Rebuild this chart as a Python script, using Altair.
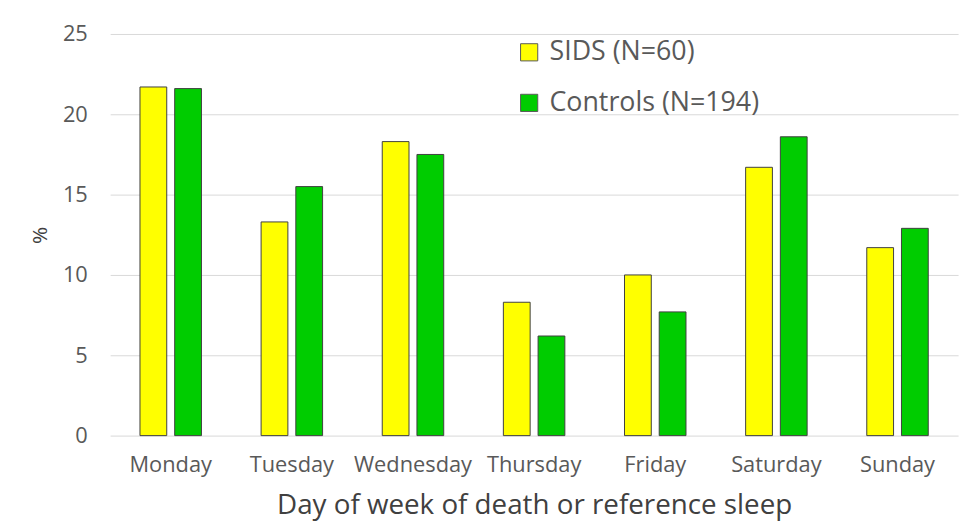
import altair as alt
import pandas as pd

days = ["Monday", "Tuesday", "Wednesday", "Thursday", "Friday", "Saturday", "Sunday"]
sids = [21.7, 13.3, 18.3, 8.3, 10.0, 16.7, 11.7]
controls = [21.6, 15.5, 17.5, 6.2, 7.7, 18.6, 12.9]
groups = ["SIDS (N=60)", "Controls (N=194)"]
colors = ["#FFFF00", "#00CC00"]

rows = []
for d, s, c in zip(days, sids, controls):
    rows.append({"day": d, "group": groups[0], "value": s})
    rows.append({"day": d, "group": groups[1], "value": c})
df = pd.DataFrame(rows)

FONT = "Open Sans"

chart = alt.Chart(df).mark_bar(stroke="#404040", strokeWidth=1).encode(
    x=alt.X("day:N", sort=days,
            scale=alt.Scale(paddingInner=0.4924, paddingOuter=0.2462),
            axis=alt.Axis(title="Day of week of death or reference sleep",
                          labelAngle=0, labelFontSize=22, labelColor="#595959",
                          labelFont=FONT, labelPadding=19, ticks=False, domain=False,
                          titleFontSize=28, titleFont=FONT, titleColor="#404040",
                          titleFontWeight="normal", titlePadding=17)),
    xOffset=alt.XOffset("group:N", sort=groups,
                        scale=alt.Scale(paddingInner=0.2286, paddingOuter=0)),
    y=alt.Y("value:Q", scale=alt.Scale(domain=[0, 25]),
            axis=alt.Axis(title="%", values=[0, 5, 10, 15, 20, 25],
                          labelFontSize=22, labelColor="#595959", labelFont=FONT,
                          labelPadding=23, ticks=False, domain=False,
                          gridColor="#d9d9d9", gridWidth=1,
                          titleFontSize=21, titleFont=FONT, titleColor="#404040",
                          titleFontWeight="normal", titlePadding=12)),
    color=alt.Color("group:N", sort=groups,
                    scale=alt.Scale(domain=groups, range=colors),
                    legend=alt.Legend(title=None, orient="none", legendX=409, legendY=5,
                                      symbolType="square", symbolSize=300,
                                      symbolStrokeColor="#595959", symbolStrokeWidth=1,
                                      labelFontSize=27, labelFont=FONT, labelColor="#595959",
                                      labelLimit=400, rowPadding=23, labelOffset=7)),
).properties(
    width=855, height=405,
    autosize=alt.AutoSizeParams(type="none"),
    padding={"left": 103, "top": 24, "right": 10, "bottom": 93},
    background="white",
).configure_view(stroke=None)

chart.save("out.html", embed_options={"renderer": "svg", "actions": False})
